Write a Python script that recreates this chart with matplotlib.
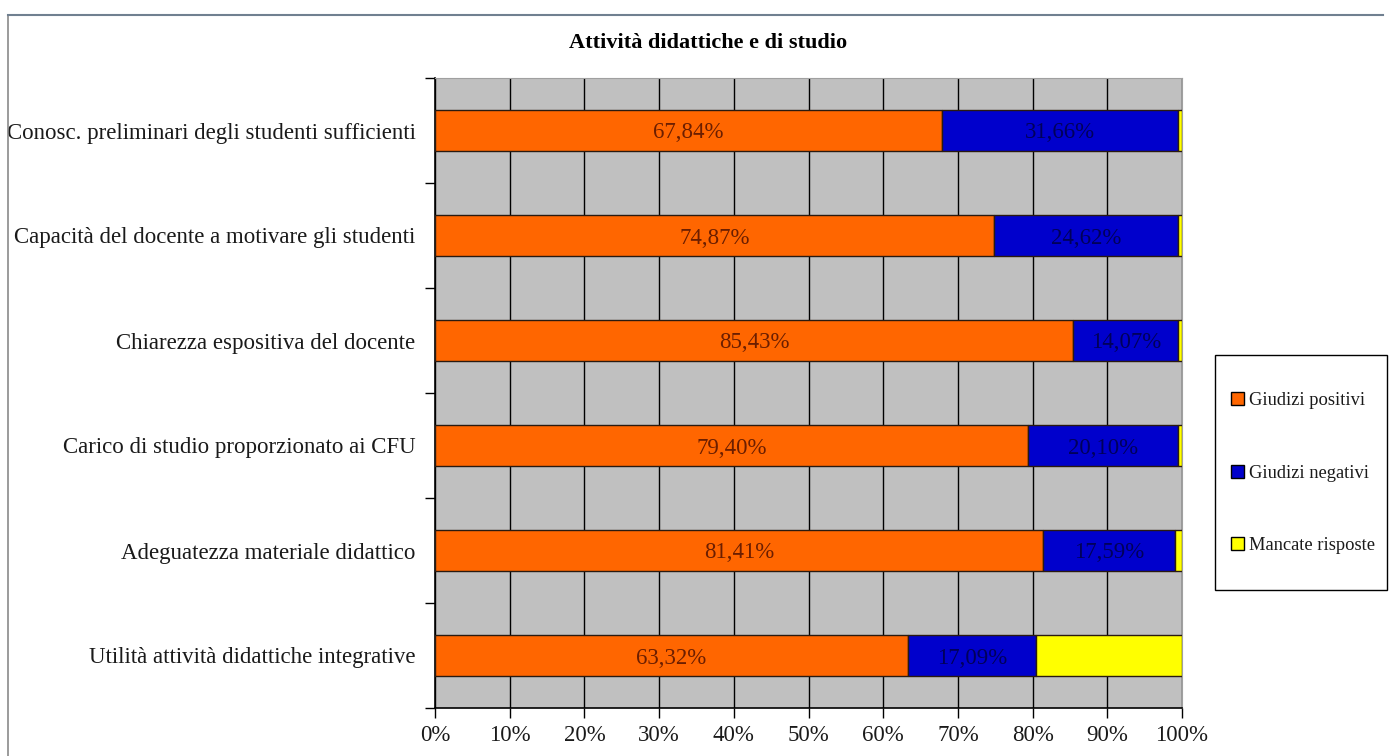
import matplotlib.pyplot as plt
import numpy as np
from matplotlib.lines import Line2D
from matplotlib.patches import Patch, Rectangle

# data (top to bottom as shown)
categorie = [
    "Conosc. preliminari degli studenti sufficienti",
    "Capacità del docente a motivare gli studenti",
    "Chiarezza espositiva del docente",
    "Carico di studio proporzionato ai CFU",
    "Adeguatezza materiale didattico",
    "Utilità attività didattiche integrative",
]
positivi = [67.84, 74.87, 85.43, 79.40, 81.41, 63.32]
negativi = [31.66, 24.62, 14.07, 20.10, 17.59, 17.09]
mancate = [0.50, 0.51, 0.50, 0.50, 1.00, 19.59]
serie_nomi = ["Giudizi positivi", "Giudizi negativi", "Mancate risposte"]
colori = ["#FF6600", "#0000CC", "#FFFF00"]

plt.rcParams['font.family'] = ['Liberation Serif', 'DejaVu Serif']

W, H = 1391, 756
fig = plt.figure(figsize=(W / 100, H / 100), dpi=100)
ax = fig.add_axes([435/W, 48/H, 747/W, 630/H])
ax.set_facecolor("#C0C0C0")

y = np.arange(len(categorie))
h = 0.39
left = np.zeros(len(categorie))
for vals, col, nome in zip([positivi, negativi, mancate], colori, serie_nomi):
    ax.barh(y, vals, left=left, height=h, color=col, edgecolor="#2a1a10",
            linewidth=1.0, label=nome, zorder=3)
    left = left + np.array(vals)

# etichette dei valori
for i in range(len(categorie)):
    ax.text(positivi[i] / 2, y[i], f"{positivi[i]:.2f}%".replace(".", ","),
            ha="center", va="center_baseline", fontsize=16.5, color="#6b1e00", zorder=4)
    ax.text(positivi[i] + negativi[i] / 2, y[i], f"{negativi[i]:.2f}%".replace(".", ","),
            ha="center", va="center_baseline", fontsize=16.5, color="#00005a", zorder=4)

ax.set_xlim(0, 100)
ax.set_ylim(len(categorie) - 0.5, -0.5)
ax.set_xticks(np.arange(0, 101, 10))
ax.set_xticklabels([f"{v}%" for v in range(0, 101, 10)], fontsize=16.5)
ax.xaxis.grid(True, color="black", linewidth=1.0, zorder=1)
ax.set_axisbelow(True)

ax.set_yticks(y)
ax.set_yticklabels(categorie, fontsize=16.5, color="#1a1a1a")
ax.set_yticks(np.arange(-0.5, len(categorie)), minor=True)
ax.tick_params(axis="y", which="major", length=0, pad=14)
ax.tick_params(axis="y", which="minor", length=7, width=1, direction="out")
ax.tick_params(axis="x", length=7, width=1, direction="out", pad=5, labelcolor="#1a1a1a")

for s in ["top", "right"]:
    ax.spines[s].set_color("#A0A0A0")
    ax.spines[s].set_linewidth(0.8)
ax.spines["left"].set_color("black")
ax.spines["bottom"].set_color("black")
ax.spines["left"].set_linewidth(1.2)
ax.spines["bottom"].set_linewidth(1.2)

fig.text(708/W, 1 - 43/H, "Attività didattiche e di studio",
         ha="center", va="center", fontsize=16, fontweight="bold")

# legenda: cornice a parte, voci centrate
fig.add_artist(Rectangle((1215/W, 1 - 590/H), 172/W, 235/H, transform=fig.transFigure,
                         facecolor="white", edgecolor="black", linewidth=1.0))
handles = [Patch(facecolor=c, edgecolor="black", label=n) for c, n in zip(colori, serie_nomi)]
leg = fig.legend(handles=handles, loc="center left",
                 bbox_to_anchor=(1222/W, 1 - 473/H), frameon=False,
                 fontsize=13.3, handlelength=0.7, handleheight=0.7,
                 handletextpad=0.25, labelspacing=3.0, borderpad=0.0)
for t in leg.get_texts():
    t.set_color("#1a1a1a")

# cornice esterna del grafico
fig.add_artist(Line2D([8/W, 8/W], [0, 1 - 15/H], color="#8a8a8a", linewidth=1.2))
fig.add_artist(Line2D([8/W, 1383/W], [1 - 15/H, 1 - 15/H], color="#708090", linewidth=1.5))

fig.savefig("out.png", dpi=100)
